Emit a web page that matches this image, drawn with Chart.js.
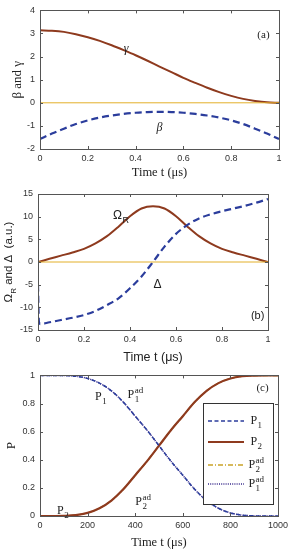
<!DOCTYPE html>
<html>
<head>
<meta charset="utf-8">
<script src="https://cdn.jsdelivr.net/npm/chart.js@4.4.0/dist/chart.umd.min.js"></script>
<style>
  body { margin: 0; background: #fff; width: 292px; height: 550px; position: relative; overflow: hidden; }
  canvas { position: absolute; left: 0; }
</style>
</head>
<body>
<canvas id="chartA" width="292" height="180" style="top:0"></canvas>
<canvas id="chartB" width="292" height="185" style="top:180px"></canvas>
<canvas id="chartC" width="292" height="185" style="top:365px"></canvas>
<script>
// panel (a): beta and gamma vs time (us)
const tA = [0, 0.05, 0.1, 0.15, 0.2, 0.25, 0.3, 0.35, 0.4, 0.45, 0.5, 0.55, 0.6, 0.65, 0.7, 0.75, 0.8, 0.85, 0.9, 0.95, 1];
const gamma = [3.14, 3.12, 3.07, 2.97, 2.84, 2.68, 2.49, 2.28, 2.06, 1.82, 1.57, 1.33, 1.08, 0.86, 0.65, 0.46, 0.30, 0.17, 0.08, 0.02, 0];
const beta = [-1.57, -1.33, -1.12, -0.92, -0.76, -0.64, -0.55, -0.48, -0.43, -0.40, -0.39, -0.40, -0.43, -0.48, -0.55, -0.64, -0.76, -0.92, -1.12, -1.33, -1.57];

// panel (b): Rabi frequency and detuning
const tB = tA;
const omegaR = [0, 0.7, 1.4, 2.1, 2.9, 4.1, 5.7, 7.8, 10.1, 11.8, 12.3, 11.8, 10.1, 7.8, 5.7, 4.1, 2.9, 2.1, 1.4, 0.7, 0];
const tDelta = [0, 0.004, 0.01, 0.05, 0.1, 0.15, 0.2, 0.25, 0.3, 0.35, 0.4, 0.45, 0.5, 0.55, 0.6, 0.65, 0.7, 0.75, 0.8, 0.85, 0.9, 0.95, 1];
const delta = [-5, -13.2, -13.7, -13.3, -12.8, -12.3, -11.7, -10.8, -9.5, -8.0, -5.8, -3.2, 0, 3.4, 6.2, 8.2, 9.6, 10.5, 11.2, 11.8, 12.4, 13.1, 13.9];

// panel (c): populations
const tC = [0, 50, 100, 150, 200, 250, 300, 350, 400, 450, 500, 550, 600, 650, 700, 750, 800, 850, 900, 950, 1000];
const P1 = [1, 1, 0.999, 0.994, 0.978, 0.945, 0.89, 0.81, 0.71, 0.61, 0.5, 0.39, 0.29, 0.19, 0.11, 0.055, 0.022, 0.006, 0.001, 0, 0];
const P2 = [0, 0, 0.001, 0.006, 0.022, 0.055, 0.11, 0.19, 0.29, 0.39, 0.5, 0.61, 0.71, 0.81, 0.89, 0.945, 0.978, 0.994, 0.999, 1, 1];
const P2ad = [0, 0, 0.001, 0.006, 0.022, 0.055, 0.11, 0.19, 0.29, 0.39, 0.5, 0.61, 0.71, 0.81, 0.89, 0.945, 0.978, 0.994, 0.999, 1, 1];
const P1ad = [1, 1, 0.999, 0.994, 0.978, 0.945, 0.89, 0.81, 0.71, 0.61, 0.5, 0.39, 0.29, 0.19, 0.11, 0.055, 0.022, 0.006, 0.001, 0, 0];

const BROWN = '#8e3a1e';
const BLUE = '#2b3d9c';
const YELLOW = '#e3b02a';
const OLIVE = '#c9a227';
const PURPLE = '#3a2c8c';
const SERIF = '"Liberation Serif", "Times New Roman", serif';
const SANS = '"Liberation Sans", Arial, sans-serif';

const pts = (xs, ys) => xs.map((x, i) => ({ x: x, y: ys[i] }));
const plainTick = v => String(+v.toFixed(2));

// text with optional sub/superscript, centred on (x, y)
function rich(ctx, x, y, base, sub, sup, size, family, italic) {
  ctx.font = (italic ? 'italic ' : '') + size + 'px ' + family;
  const wb = ctx.measureText(base).width;
  const small = Math.round(size * 0.72) + 'px ' + family;
  ctx.font = small;
  const ws = Math.max(sub ? ctx.measureText(sub).width : 0, sup ? ctx.measureText(sup).width : 0);
  let x0 = x - (wb + ws) / 2;
  ctx.textAlign = 'left';
  ctx.textBaseline = 'middle';
  ctx.font = (italic ? 'italic ' : '') + size + 'px ' + family;
  ctx.fillText(base, x0, y);
  ctx.font = small;
  if (sup) ctx.fillText(sup, x0 + wb + 0.5, y - size * 0.38);
  if (sub) ctx.fillText(sub, x0 + wb + 0.5, y + size * 0.42);
}

function makeChart(id, datasets, cfg) {
  const notesPlugin = {
    id: 'notes',
    afterDraw(chart) {
      const ctx = chart.ctx, a = chart.chartArea;
      const xs = chart.scales.x, ys = chart.scales.y;
      ctx.save();
      // box and inward tick marks
      ctx.strokeStyle = '#555';
      ctx.lineWidth = 1;
      ctx.strokeRect(Math.round(a.left) + 0.5, Math.round(a.top) + 0.5, Math.round(a.right - a.left), Math.round(a.bottom - a.top));
      ctx.beginPath();
      xs.ticks.forEach(t => {
        const px = Math.round(xs.getPixelForValue(t.value)) + 0.5;
        ctx.moveTo(px, a.bottom); ctx.lineTo(px, a.bottom - 3);
        ctx.moveTo(px, a.top); ctx.lineTo(px, a.top + 3);
      });
      ys.ticks.forEach(t => {
        const py = Math.round(ys.getPixelForValue(t.value)) + 0.5;
        ctx.moveTo(a.left, py); ctx.lineTo(a.left + 3, py);
        ctx.moveTo(a.right, py); ctx.lineTo(a.right - 3, py);
      });
      ctx.stroke();
      ctx.fillStyle = '#222';
      (cfg.notes || []).forEach(n => {
        rich(ctx, xs.getPixelForValue(n.x), ys.getPixelForValue(n.y), n.text, n.sub, n.sup, n.size, n.family, n.italic);
      });
      if (cfg.yTitle) cfg.yTitle(ctx, a);
      if (cfg.legend) cfg.legend(ctx, a);
      ctx.restore();
    }
  };
  return new Chart(document.getElementById(id).getContext('2d'), {
    type: 'line',
    data: { datasets: datasets },
    options: {
      responsive: false,
      animation: false,
      layout: { padding: { top: cfg.padTop, right: cfg.padRight, left: 0, bottom: 0 } },
      plugins: { legend: { display: false }, tooltip: { enabled: false } },
      elements: { point: { radius: 0 }, line: { tension: 0.4, cubicInterpolationMode: 'monotone' } },
      scales: {
        x: {
          type: 'linear', min: cfg.xMin, max: cfg.xMax,
          grid: { display: false, drawTicks: false },
          border: { display: false },
          ticks: { stepSize: cfg.xStep, color: '#333', font: { family: SANS, size: 9 }, padding: 4, maxRotation: 0, callback: plainTick },
          title: { display: true, text: 'Time t (μs)', color: '#222', font: { family: cfg.titleFamily, size: 12.5 }, padding: { top: 0, bottom: 0 } },
          afterFit: s => { s.height = cfg.xHeight; }
        },
        y: {
          type: 'linear', min: cfg.yMin, max: cfg.yMax,
          grid: { display: false, drawTicks: false },
          border: { display: false },
          ticks: { stepSize: cfg.yStep, color: '#333', font: { family: SANS, size: 9 }, padding: 5, callback: plainTick },
          title: { display: !!cfg.yText, text: cfg.yText || '', color: '#222', font: { family: cfg.titleFamily, size: 13, style: cfg.yItalic ? 'italic' : 'normal' }, padding: { top: cfg.yTitlePad || 0, bottom: 0 } },
          afterFit: s => { s.width = cfg.yWidth; }
        }
      }
    },
    plugins: [notesPlugin]
  });
}

// (a)
makeChart('chartA', [
  { data: pts([0, 1], [0, 0]), borderColor: YELLOW, borderWidth: 1, tension: 0 },
  { data: pts(tA, beta), borderColor: BLUE, borderWidth: 2.2, borderDash: [7, 4] },
  { data: pts(tA, gamma), borderColor: BROWN, borderWidth: 2 }
], {
  padTop: 6, padRight: 13, xHeight: 31, yWidth: 40,
  xMin: 0, xMax: 1, xStep: 0.2, yMin: -2, yMax: 4, yStep: 1,
  titleFamily: SERIF, yText: 'β and γ', yTitlePad: 10,
  notes: [
    { x: 0.36, y: 2.32, text: 'γ', size: 12, family: SERIF, italic: true },
    { x: 0.5, y: -1.1, text: 'β', size: 12, family: SERIF, italic: true },
    { x: 0.935, y: 2.95, text: '(a)', size: 11, family: SERIF }
  ]
});

// (b)
makeChart('chartB', [
  { data: pts([0, 1], [0, 0]), borderColor: YELLOW, borderWidth: 1, tension: 0 },
  { data: pts(tDelta, delta), borderColor: BLUE, borderWidth: 2.2, borderDash: [7, 4] },
  { data: pts(tB, omegaR), borderColor: BROWN, borderWidth: 2 }
], {
  padTop: 14, padRight: 24, xHeight: 35, yWidth: 38,
  xMin: 0, xMax: 1, xStep: 0.2, yMin: -15, yMax: 15, yStep: 5,
  titleFamily: SANS,
  yTitle: (ctx, a) => {
    ctx.save();
    ctx.translate(9, (a.top + a.bottom) / 2);
    ctx.rotate(-Math.PI / 2);
    ctx.fillStyle = '#222';
    ctx.textBaseline = 'middle';
    ctx.font = '11.5px ' + SANS;
    const parts = ['Ω', 'R', ' and Δ  (a.u.)'];
    const w0 = ctx.measureText(parts[0]).width;
    ctx.font = '8px ' + SANS;
    const w1 = ctx.measureText(parts[1]).width;
    ctx.font = '11.5px ' + SANS;
    const w2 = ctx.measureText(parts[2]).width;
    let x = -(w0 + w1 + w2) / 2;
    ctx.fillText(parts[0], x, 0);
    ctx.font = '8px ' + SANS;
    ctx.fillText(parts[1], x + w0, 5);
    ctx.font = '11.5px ' + SANS;
    ctx.fillText(parts[2], x + w0 + w1, 0);
    ctx.restore();
  },
  notes: [
    { x: 0.36, y: 10.2, text: 'Ω', sub: 'R', size: 12, family: SANS },
    { x: 0.52, y: -5.0, text: 'Δ', size: 12, family: SANS },
    { x: 0.955, y: -12.0, text: '(b)', size: 11, family: SANS }
  ]
});

// (c)
const legendRows = [
  { text: 'P', sub: '1', color: BLUE, dash: [4, 2.5], width: 1.5 },
  { text: 'P', sub: '2', color: BROWN, dash: [], width: 2 },
  { text: 'P', sub: '2', sup: 'ad', color: OLIVE, dash: [5, 2, 1, 2], width: 1.5 },
  { text: 'P', sub: '1', sup: 'ad', color: PURPLE, dash: [1, 1.2], width: 1.5 }
];
makeChart('chartC', [
  { data: pts(tC, P1), borderColor: BLUE, borderWidth: 1.5, borderDash: [4, 2.5] },
  { data: pts(tC, P2), borderColor: BROWN, borderWidth: 2.2 },
  { data: pts(tC, P2ad), borderColor: OLIVE, borderWidth: 1.5, borderDash: [5, 2, 1, 2] },
  { data: pts(tC, P1ad), borderColor: PURPLE, borderWidth: 1.5, borderDash: [1, 1.2] }
], {
  padTop: 9, padRight: 13, xHeight: 34, yWidth: 40,
  xMin: 0, xMax: 1000, xStep: 200, yMin: 0, yMax: 1, yStep: 0.2,
  titleFamily: SERIF, yText: 'P', yTitlePad: 4,
  notes: [
    { x: 255, y: 0.85, text: 'P', sub: '1', size: 12, family: SERIF },
    { x: 400, y: 0.86, text: 'P', sub: '1', sup: 'ad', size: 12, family: SERIF },
    { x: 95, y: 0.035, text: 'P', sub: '2', size: 12, family: SERIF },
    { x: 432, y: 0.1, text: 'P', sub: '2', sup: 'ad', size: 12, family: SERIF },
    { x: 935, y: 0.91, text: '(c)', size: 11, family: SERIF }
  ],
  legend: (ctx, a) => {
    const bx = Math.round(a.right) - 75, by = Math.round(a.top) + 28;
    ctx.fillStyle = '#fff';
    ctx.fillRect(bx, by, 70, 101);
    ctx.strokeStyle = '#333';
    ctx.lineWidth = 1;
    ctx.strokeRect(bx + 0.5, by + 0.5, 70, 101);
    const rowY = [18, 39, 62, 81];
    legendRows.forEach((r, i) => {
      const y = by + rowY[i];
      ctx.strokeStyle = r.color;
      ctx.lineWidth = r.width;
      ctx.setLineDash(r.dash);
      ctx.beginPath();
      ctx.moveTo(bx + 5, y); ctx.lineTo(bx + 41, y);
      ctx.stroke();
      ctx.setLineDash([]);
      ctx.fillStyle = '#222';
      rich(ctx, bx + 53, y, r.text, r.sub, r.sup, 12, SERIF, false);
    });
  }
});
</script>
</body>
</html>
